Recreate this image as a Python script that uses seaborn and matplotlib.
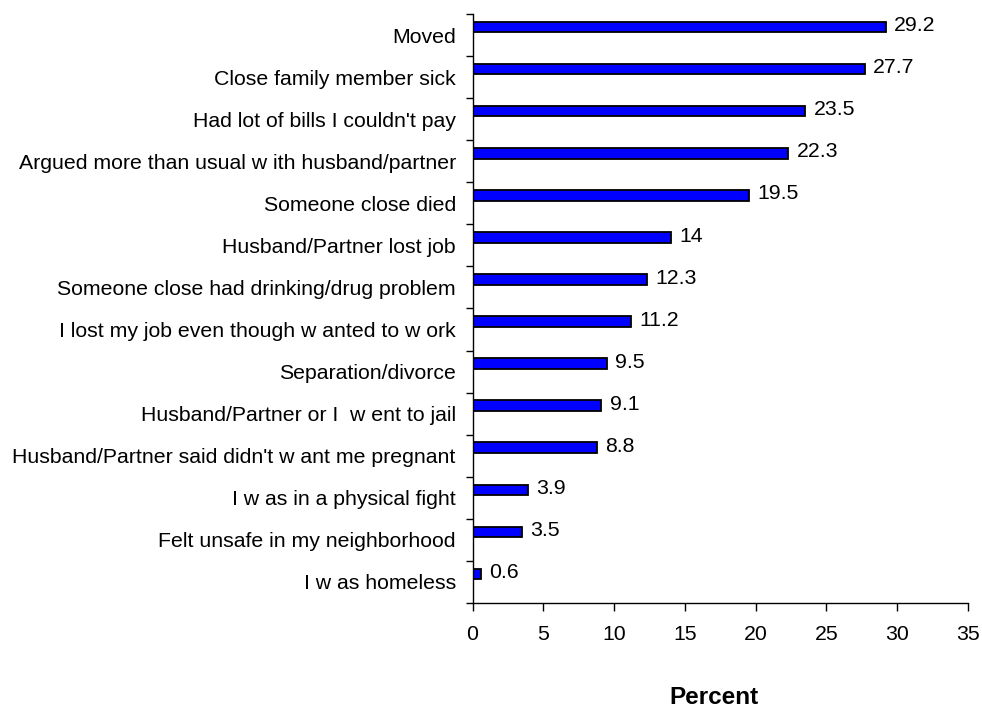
import matplotlib
matplotlib.use("Agg")
import matplotlib.pyplot as plt
import seaborn as sns
import pandas as pd

events = [
    "Moved",
    "Close family member sick",
    "Had lot of bills I couldn't pay",
    "Argued more than usual w ith husband/partner",
    "Someone close died",
    "Husband/Partner lost job",
    "Someone close had drinking/drug problem",
    "I lost my job even though w anted to w ork",
    "Separation/divorce",
    "Husband/Partner or I  w ent to jail",
    "Husband/Partner said didn't w ant me pregnant",
    "I w as in a physical fight",
    "Felt unsafe in my neighborhood",
    "I w as homeless",
]
percent = [29.2, 27.7, 23.5, 22.3, 19.5, 14, 12.3, 11.2, 9.5, 9.1, 8.8, 3.9, 3.5, 0.6]
value_labels = ["29.2", "27.7", "23.5", "22.3", "19.5", "14", "12.3", "11.2",
                "9.5", "9.1", "8.8", "3.9", "3.5", "0.6"]
x_ticks = [0, 5, 10, 15, 20, 25, 30, 35]

sns.set_theme(style="white")
plt.rcParams["font.family"] = ["Liberation Sans", "DejaVu Sans"]
plt.rcParams["text.color"] = "black"
plt.rcParams["axes.labelcolor"] = "black"
plt.rcParams["xtick.color"] = "black"
plt.rcParams["ytick.color"] = "black"

FS = 15.3

df = pd.DataFrame({"event": events, "percent": percent})

fig = plt.figure(figsize=(9.82, 7.07), dpi=100)
ax = fig.add_axes([0.4812, 0.1471, 0.5045, 0.8331])

sns.barplot(data=df, y="event", x="percent", orient="h", order=events,
            color="#0000FF", saturation=1, width=0.25,
            edgecolor="black", linewidth=1.3, ax=ax)

# each category slot spans [k - 0.31, k + 0.69]; the bar sits in its upper part
shift = 0.19
n = len(events)
ax.set_ylim(n - 0.31, -0.31)
ax.set_xlim(0, 35)

ax.set_yticks([k - 0.31 for k in range(n + 1)])
ax.set_yticklabels([])
ax.set_yticks([k + shift for k in range(n)], minor=True)
ax.set_yticklabels(events, minor=True, fontsize=FS)
ax.tick_params(axis="y", which="minor", length=0, pad=12)
ax.tick_params(axis="y", which="major", direction="out", length=5, width=1,
               color="black", left=True)

ax.set_xticks(x_ticks)
ax.set_xticklabels([str(t) for t in x_ticks], fontsize=FS)
ax.tick_params(axis="x", direction="out", length=6, width=1, color="black",
               bottom=True, pad=10)

for s in ["top", "right"]:
    ax.spines[s].set_visible(False)
for s in ["left", "bottom"]:
    ax.spines[s].set_color("black")
    ax.spines[s].set_linewidth(1)

ax.set_ylabel("")
ax.set_xlabel("Percent", fontsize=17.5, fontweight="bold", va="center")
ax.xaxis.set_label_coords(0.487, -0.1596)

for k, (v, lab) in enumerate(zip(percent, value_labels)):
    ax.annotate(lab, xy=(v, k), xytext=(6, 1), textcoords="offset points",
                ha="left", va="center", fontsize=FS, color="black")

ax.grid(False)
fig.savefig("out.png", dpi=100)
